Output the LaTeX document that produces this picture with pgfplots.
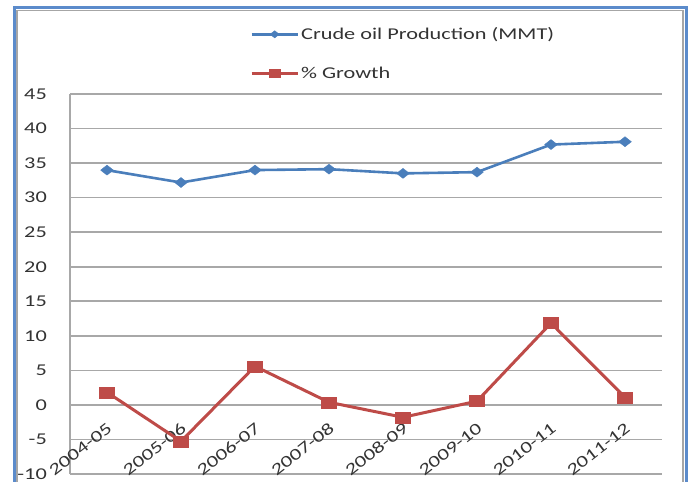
\documentclass[border=0pt]{standalone}
\usepackage{fontspec}
\setmainfont{Carlito}[FakeStretch=1.35]
\usepackage{pgfplots}
\pgfplotsset{compat=1.18}
\definecolor{serblue}{HTML}{4A7EBB}
\definecolor{serred}{HTML}{BE4B48}
\definecolor{frameblue}{HTML}{5B8BCB}
\definecolor{gridgray}{HTML}{A8A8A8}
\definecolor{txt}{HTML}{333333}
\begin{document}
\fontsize{16.5pt}{19pt}\selectfont
\begin{tikzpicture}
\useasboundingbox (0pt,0pt) rectangle (691pt,482pt);
% outer frame
\draw[frameblue, line width=3pt] (14pt,0pt) -- (14pt,474.5pt) -- (686pt,474.5pt) -- (686pt,0pt);
\draw[gray!70, line width=1.3pt] (17pt,0pt) -- (17pt,471.5pt) -- (683pt,471.5pt) -- (683pt,0pt);
\begin{axis}[
  at={(70pt,8pt)}, anchor=south west,
  width=592pt, height=380pt, scale only axis,
  xmin=-0.5, xmax=7.5, ymin=-10, ymax=45,
  xtick={0,...,7},
  xticklabels={2004-05,2005-06,2006-07,2007-08,2008-09,2009-10,2010-11,2011-12},
  ytick={-10,-5,...,45},
  major tick length=0pt,
  /pgf/number format/assume math mode=true,
  ymajorgrids,
  grid style={gridgray, line width=1.6pt},
  axis x line*=bottom, axis y line*=left,
  axis line style={gridgray, line width=1.6pt},
  tick label style={text=txt},
  yticklabel style={anchor=east, inner sep=0pt, xshift=-23pt},
  xticklabel style={xshift=3pt, yshift=48pt, rotate=38, anchor=east, inner sep=0pt},
  clip=false,
  legend cell align=left,
  legend style={at={(0.304,1.182)}, anchor=north west, draw=none, fill=none,
    inner sep=0pt, row sep=21pt, text=txt,
    nodes={inner sep=2pt}},
  legend image code/.code={
    \draw[mark repeat=2,mark phase=2,#1, every mark/.append style={scale=0.72}] plot coordinates {(0pt,0pt) (23pt,0pt) (46pt,0pt)};
  },
]
\addplot[serblue, line width=2.6pt, mark=diamond*, mark size=5pt,
  mark options={xscale=1.7, solid, fill=serblue, line width=0.4pt}]
  coordinates {(0,33.98)(1,32.19)(2,33.99)(3,34.12)(4,33.51)(5,33.69)(6,37.68)(7,38.09)};
\addlegendentry{Crude oil Production (MMT)}
\addplot[serred, line width=3pt, mark=square*, mark size=5.5pt,
  mark options={xscale=1.36, solid, fill=serred, line width=0.4pt}]
  coordinates {(0,1.83)(1,-5.27)(2,5.59)(3,0.38)(4,-1.79)(5,0.54)(6,11.84)(7,1.09)};
\addlegendentry{\% Growth}
\end{axis}
\end{tikzpicture}
\end{document}
